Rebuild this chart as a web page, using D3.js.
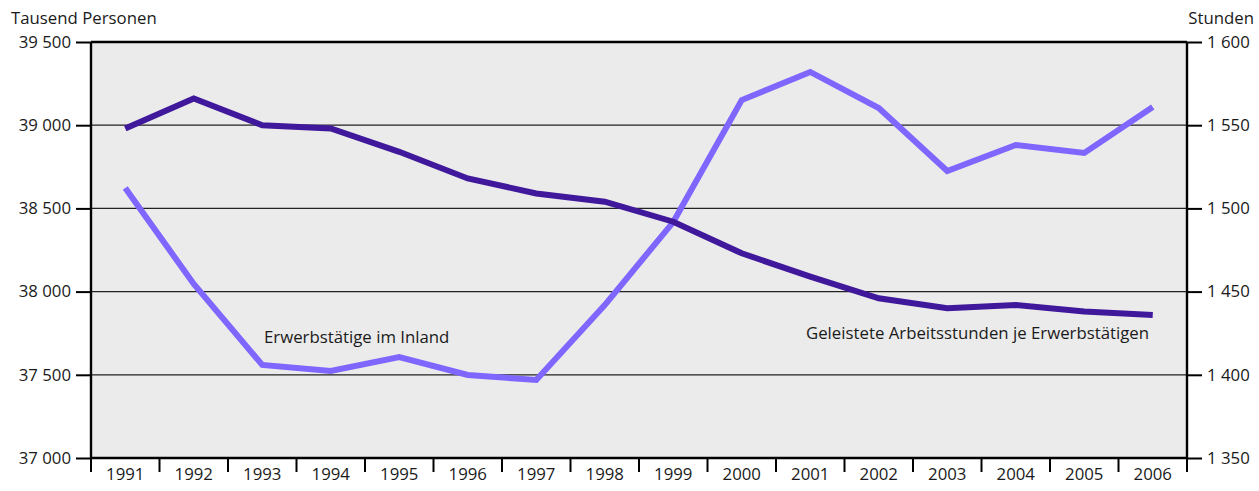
<!DOCTYPE html>
<html>
<head>
<meta charset="utf-8">
<script src="https://cdn.jsdelivr.net/npm/d3@7"></script>
<style>
  body { margin: 0; background: #fff; }
  text { font-family: "Open Sans", "Noto Sans", sans-serif; fill: #1a1a1a; }
</style>
</head>
<body>
<div id="chart"></div>
<script>
// data
const years = ["1991","1992","1993","1994","1995","1996","1997","1998","1999","2000","2001","2002","2003","2004","2005","2006"];
const erwerbstaetige = [38622, 38046, 37559, 37523, 37607, 37499, 37469, 37919, 38418, 39151, 39320, 39103, 38725, 38881, 38833, 39109];
const stunden = [1548, 1566, 1550, 1548, 1534, 1518, 1509, 1504, 1492, 1473, 1459, 1446, 1440, 1442, 1438, 1436];
const leftTicks = [37000, 37500, 38000, 38500, 39000, 39500];
const rightTicks = [1350, 1400, 1450, 1500, 1550, 1600];

const W = 1259, H = 491;
const margin = {top: 42, right: 72, bottom: 33, left: 91};
const width = W - margin.left - margin.right,
      height = H - margin.top - margin.bottom;
const fs = 16.8;

const fmt = v => d3.format(",")(v).replace(/,/g, " ");

const svg = d3.select("#chart").append("svg")
  .attr("width", W).attr("height", H)
  .append("g")
  .attr("transform", `translate(${margin.left},${margin.top})`);

const x = d3.scaleBand().domain(years).range([0, width]);
const yL = d3.scaleLinear().domain([37000, 39500]).range([height, 0]);
const yR = d3.scaleLinear().domain([1350, 1600]).range([height, 0]);

// background
svg.append("rect").attr("width", width).attr("height", height).attr("fill", "#ebebeb");

// gridlines
svg.append("g").selectAll("line")
  .data(leftTicks.slice(1))
  .join("line")
  .attr("x1", 0).attr("x2", width)
  .attr("y1", d => yL(d)).attr("y2", d => yL(d))
  .attr("stroke", d => d === 39500 ? "#000" : "#222")
  .attr("stroke-width", d => d === 39500 ? 2.4 : 1.3);

// left axis
const axL = svg.append("g")
  .call(d3.axisLeft(yL).tickValues(leftTicks).tickFormat(fmt).tickSize(15).tickPadding(5));
// right axis
const axR = svg.append("g").attr("transform", `translate(${width},0)`)
  .call(d3.axisRight(yR).tickValues(rightTicks).tickFormat(fmt).tickSize(15).tickPadding(5));
// bottom axis: ticks at band edges
const axB = svg.append("g").attr("transform", `translate(0,${height})`)
  .call(d3.axisBottom(x).tickSize(0).tickPadding(10));
axB.selectAll(".edge")
  .data(d3.range(years.length + 1))
  .join("line")
  .attr("class", "edge")
  .attr("x1", i => i * x.step()).attr("x2", i => i * x.step())
  .attr("y1", 0).attr("y2", 14)
  .attr("stroke", "#000").attr("stroke-width", 2);

[axL, axR, axB].forEach(a => {
  a.select(".domain").attr("stroke", "#000").attr("stroke-width", 2.4);
  a.selectAll(".tick line").attr("stroke", "#000").attr("stroke-width", 2);
  a.selectAll("text").attr("font-size", fs).attr("fill", "#1a1a1a")
    .attr("font-family", '"Open Sans", "Noto Sans", sans-serif');
});
axL.select(".domain").attr("d", `M0,${height}V0`);
axR.select(".domain").attr("d", `M0,${height}V0`);
axB.select(".domain").attr("d", `M0,0H${width}`);

// lines
const cx = d => x(d) + x.bandwidth() / 2;
svg.append("path")
  .datum(erwerbstaetige)
  .attr("d", d3.line().x((d, i) => cx(years[i])).y(d => yL(d)))
  .attr("fill", "none").attr("stroke", "#7f66ff").attr("stroke-width", 6);
svg.append("path")
  .datum(stunden)
  .attr("d", d3.line().x((d, i) => cx(years[i])).y(d => yR(d)))
  .attr("fill", "none").attr("stroke", "#40189b").attr("stroke-width", 6);

// axis titles
svg.append("text").attr("x", -80).attr("y", -18).attr("font-size", fs).text("Tausend Personen");
svg.append("text").attr("x", width + 67).attr("y", -18).attr("text-anchor", "end").attr("font-size", fs).text("Stunden");

// series labels
svg.append("text").attr("x", 173).attr("y", 301).attr("font-size", fs).text("Erwerbstätige im Inland");
svg.append("text").attr("x", 715).attr("y", 297).attr("font-size", fs).text("Geleistete Arbeitsstunden je Erwerbstätigen");
</script>
</body>
</html>
